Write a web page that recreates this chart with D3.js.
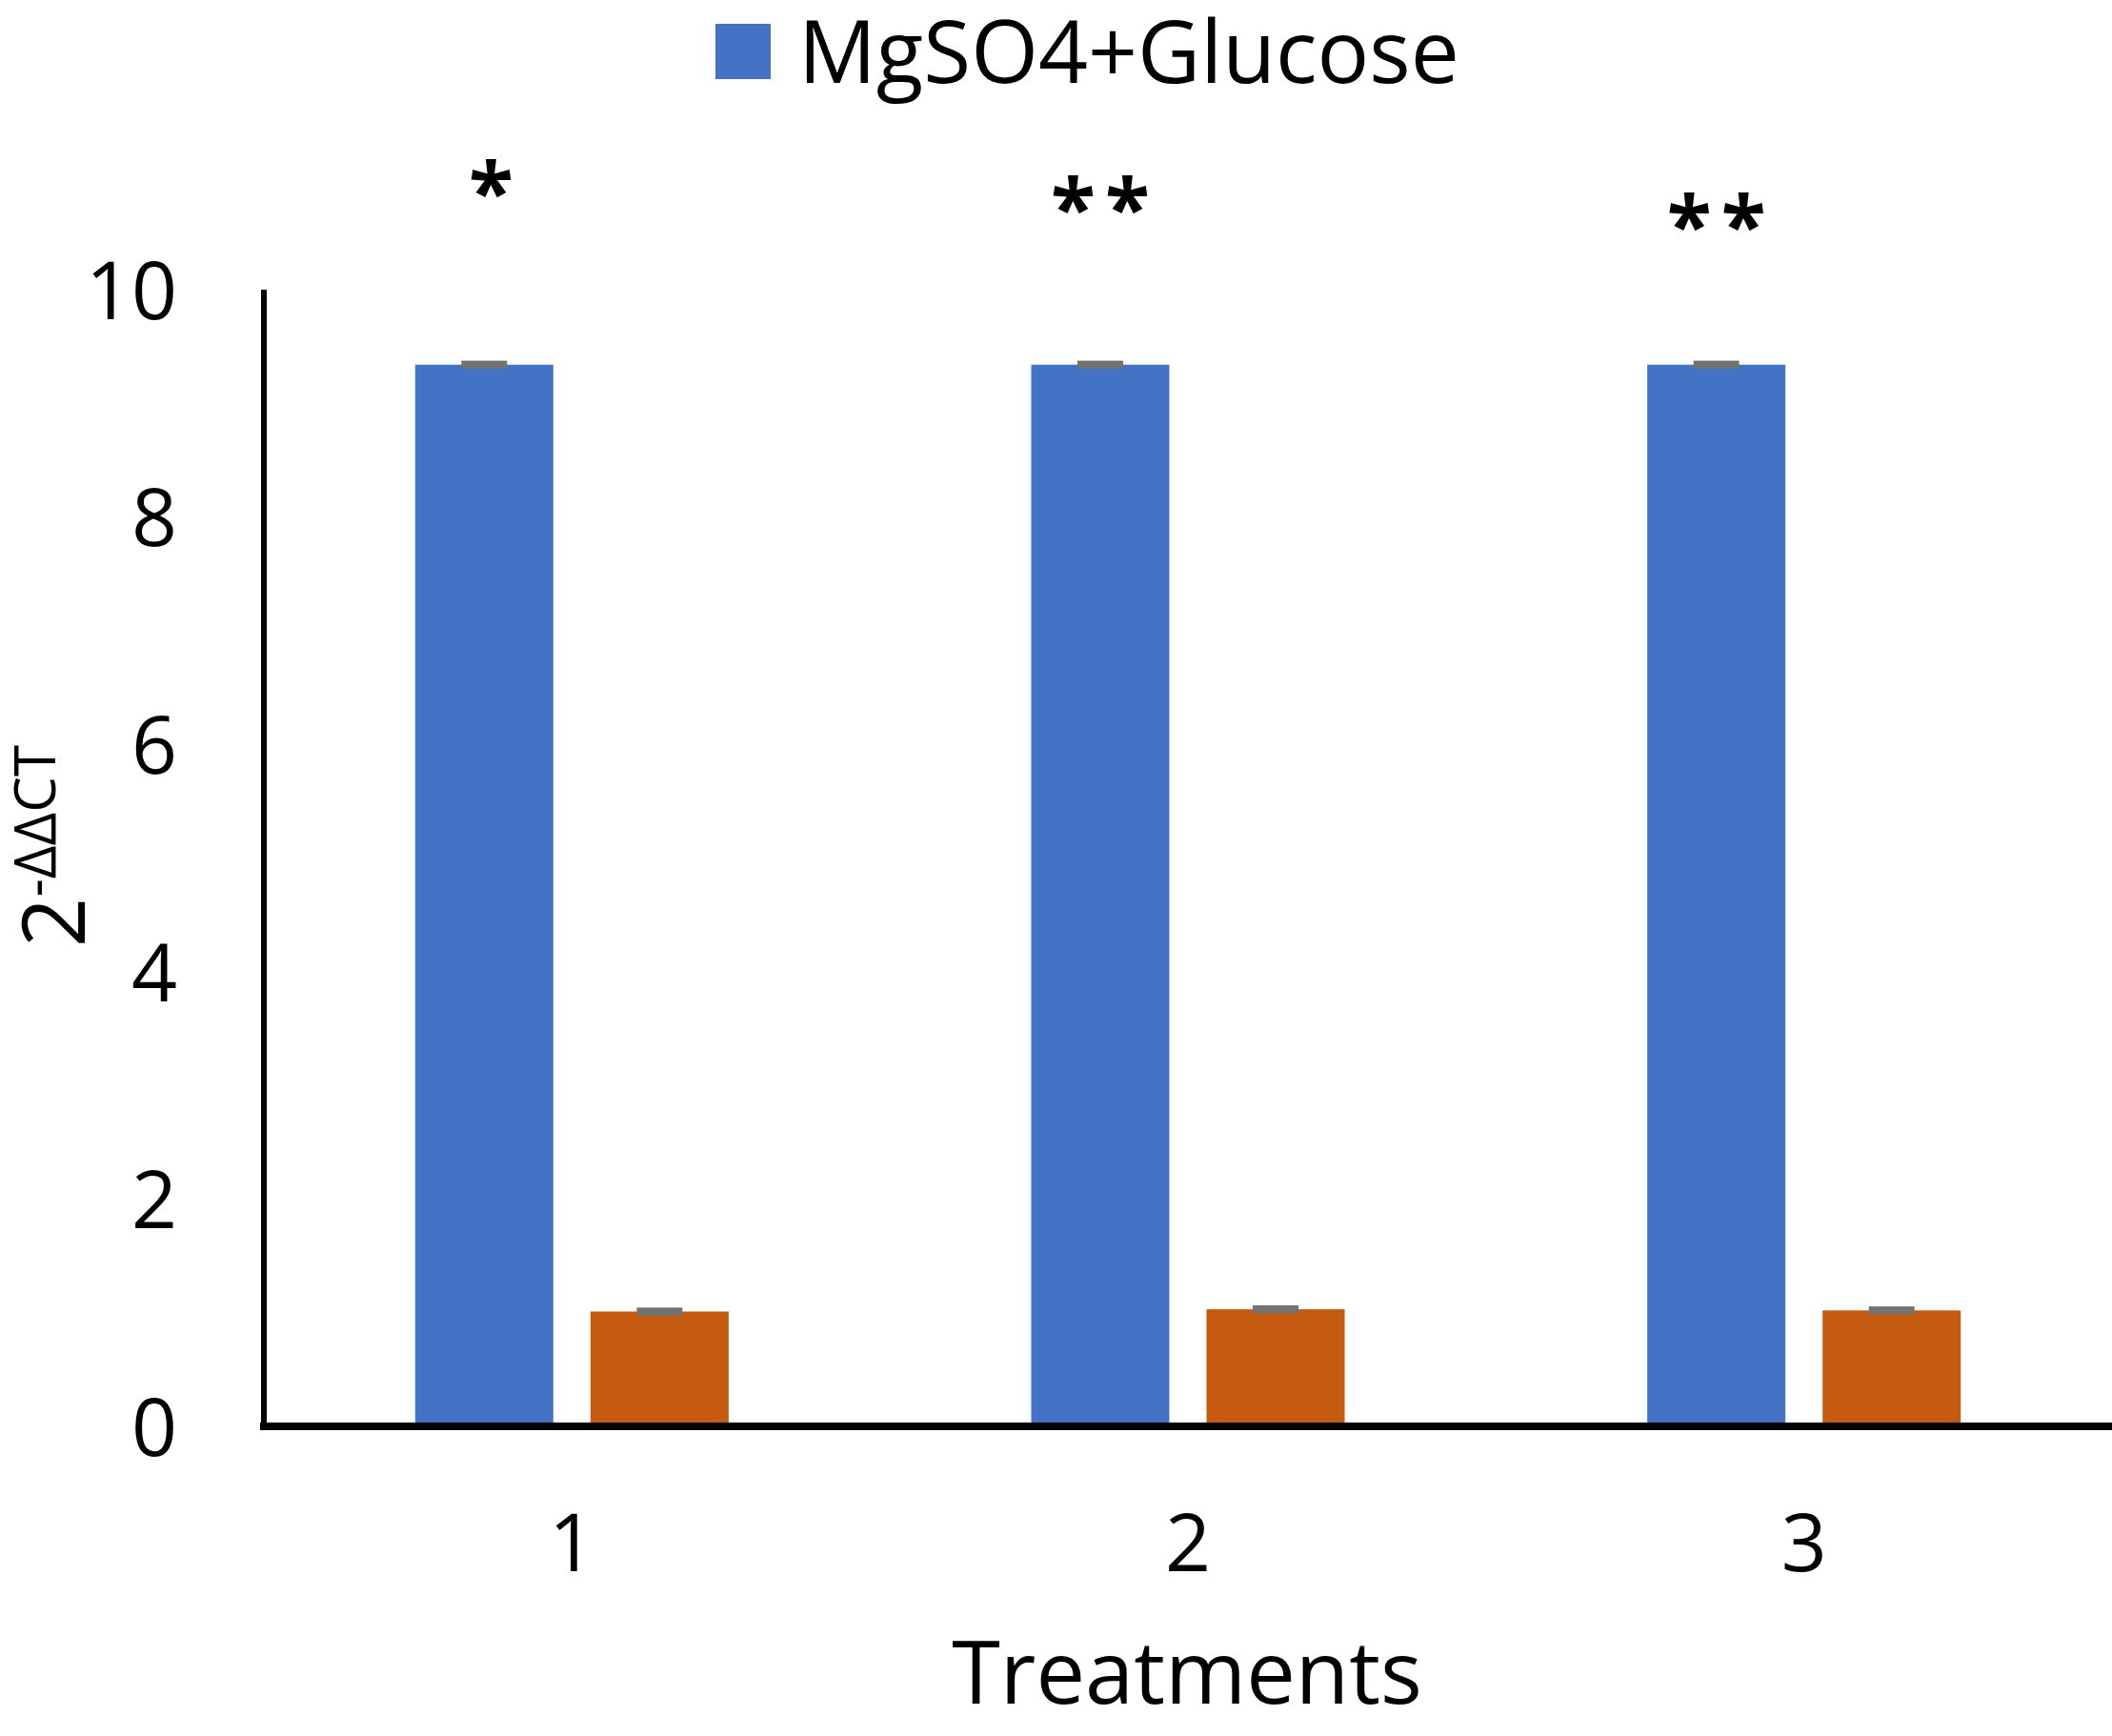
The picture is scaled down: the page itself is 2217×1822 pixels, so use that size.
<!DOCTYPE html>
<html>
<head>
<meta charset="utf-8">
<script src="https://cdn.jsdelivr.net/npm/d3@7"></script>
<style>
  html, body { margin: 0; padding: 0; background: #ffffff; }
  svg { display: block; }
  text { font-family: "Open Sans", "Noto Sans", sans-serif; fill: #000; }
</style>
</head>
<body>
<svg id="chart" width="2217" height="1822"></svg>
<script>
// ---- data ----
const categories = ["1", "2", "3"];
const seriesNames = ["MgSO4+Glucose", "Control"];
const mgso4Glucose = [9.34, 9.34, 9.34];
const control = [1.01, 1.03, 1.02];
const mgso4GlucoseErr = [0.035, 0.035, 0.035];
const controlErr = [0.035, 0.035, 0.035];
const yTicks = [0, 2, 4, 6, 8, 10];
const significance = ["*", "**", "**"];
const significanceLevel = [10.93, 10.79, 10.64];
const legendSeries = ["MgSO4+Glucose"];
const colors = ["#4472C4", "#C55A11"];

(function () {
const svg = d3.select("#chart");
const W = 2217;
const mLeft = 277, mRight = 2217, mTop = 304, mBottom = 1497;

const x0 = d3.scaleBand().domain(categories).range([mLeft, mRight]).padding(0);
const x1 = d3.scaleBand().domain(seriesNames).range([0, x0.bandwidth()])
  .paddingInner(0.212).paddingOuter(0.863);
const y = d3.scaleLinear().domain([0, 10]).range([mBottom, mTop]);

const values = [mgso4Glucose, control];
const errs = [mgso4GlucoseErr, controlErr];
const rows = [];
categories.forEach((c, i) => {
  seriesNames.forEach((s, j) => {
    rows.push({ cat: c, series: s, v: values[j][i], e: errs[j][i], color: colors[j] });
  });
});

// bars
svg.append("g").selectAll("rect").data(rows).join("rect")
  .attr("x", d => x0(d.cat) + x1(d.series))
  .attr("y", d => y(d.v))
  .attr("width", x1.bandwidth())
  .attr("height", d => y(0) - y(d.v))
  .attr("fill", d => d.color);

// error bars (short thick gray caps)
const capW = 48;
svg.append("g").selectAll("rect").data(rows).join("rect")
  .attr("x", d => x0(d.cat) + x1(d.series) + x1.bandwidth() / 2 - capW / 2)
  .attr("y", d => y(d.v + d.e))
  .attr("width", capW)
  .attr("height", d => y(d.v - d.e) - y(d.v + d.e))
  .attr("fill", "#737373");

// y axis
const yAxis = d3.axisLeft(y).tickValues(yTicks).tickSize(0).tickPadding(91).tickFormat(d3.format("d"));
const gy = svg.append("g").attr("transform", `translate(${mLeft},0)`).call(yAxis);
gy.select(".domain").attr("stroke", "#000").attr("stroke-width", 6).attr("d", `M0,${y(0)}V${y(10)}`);
gy.selectAll("text").style("font-size", "84px").attr("fill", "#000")
  .attr("font-family", "'Open Sans', sans-serif").attr("dy", "0.36em");

// x axis
const xAxis = d3.axisBottom(x0).tickSize(0).tickPadding(92);
const gx = svg.append("g").attr("transform", `translate(0,${y(0)})`).call(xAxis);
gx.select(".domain").attr("stroke", "#000").attr("stroke-width", 8).attr("d", `M${mLeft - 4},0H${W}`);
gx.selectAll("text").style("font-size", "84px").attr("fill", "#000")
  .attr("font-family", "'Open Sans', sans-serif");

// significance stars
svg.append("g").selectAll("text").data(categories).join("text")
  .attr("x", (c, i) => x0(c) + x1(seriesNames[0]) + x1.bandwidth() / 2 + (i === 0 ? 12 : 0))
  .attr("y", (c, i) => y(significanceLevel[i]))
  .attr("dy", "0.47em")
  .attr("text-anchor", "middle")
  .style("font-size", "86px")
  .style("font-weight", "700")
  .style("letter-spacing", "10px")
  .text((c, i) => significance[i])
  .attr("dx", (c, i) => significance[i].length > 1 ? 5 : 0);

// x axis title
svg.append("text")
  .attr("x", 1246).attr("y", 1788)
  .attr("text-anchor", "middle")
  .style("font-size", "92px")
  .text("Treatments");

// y axis title: 2^-ΔΔCT
const yt = svg.append("text")
  .attr("transform", "translate(89,888) rotate(-90)")
  .attr("text-anchor", "middle");
yt.append("tspan").style("font-size", "92px").text("2");
yt.append("tspan").style("font-size", "60px").attr("dy", -31).text("-ΔΔCT");

// legend
const lg = svg.append("g").selectAll("g").data(legendSeries).join("g");
lg.append("rect").attr("x", 751).attr("y", 25).attr("width", 58).attr("height", 58)
  .attr("fill", (d, i) => colors[i]);
lg.append("text").attr("x", 838).attr("y", 87).style("font-size", "91px").text(d => d);
})();
</script>
</body>
</html>
